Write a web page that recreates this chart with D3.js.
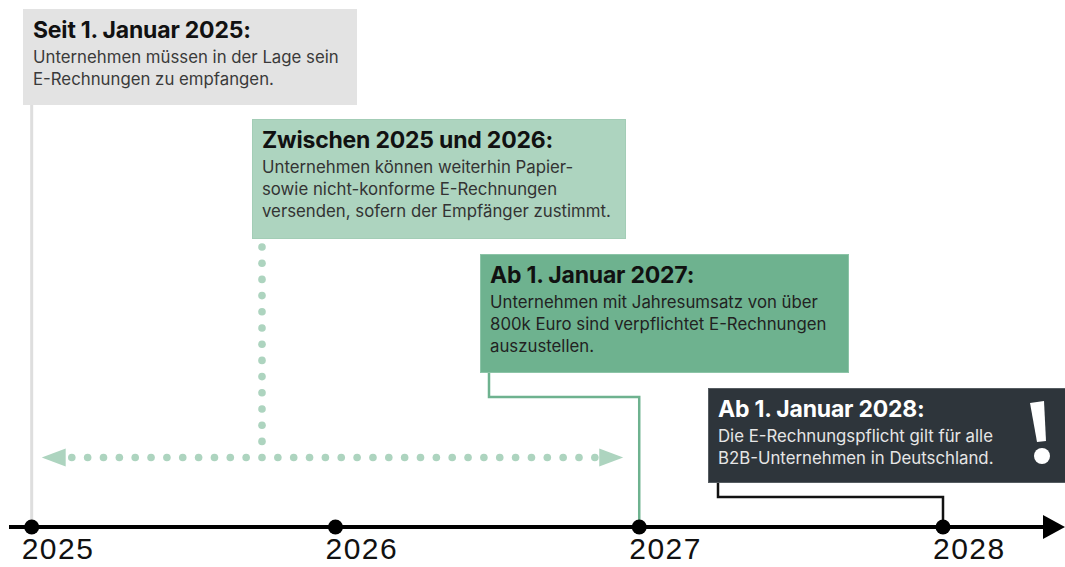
<!DOCTYPE html>
<html><head><meta charset="utf-8">
<script src="https://cdn.jsdelivr.net/npm/d3@7/dist/d3.min.js"></script>
<style>
html,body{margin:0;padding:0;background:#fff;}
svg{display:block;}
</style></head>
<body>
<script>
// ---- data ----
const years = [2025, 2026, 2027, 2028];
const yearLabels = ["2025", "2026", "2027", "2028"];
const titles = ["Seit 1. Januar 2025:", "Zwischen 2025 und 2026:", "Ab 1. Januar 2027:", "Ab 1. Januar 2028:"];
const bodies = [
  ["Unternehmen müssen in der Lage sein", "E-Rechnungen zu empfangen."],
  ["Unternehmen können weiterhin Papier-", "sowie nicht-konforme E-Rechnungen", "versenden, sofern der Empfänger zustimmt."],
  ["Unternehmen mit Jahresumsatz von über", "800k Euro sind verpflichtet E-Rechnungen", "auszustellen."],
  ["Die E-Rechnungspflicht gilt für alle", "B2B-Unternehmen in Deutschland."]
];
const eventYears = [2025, null, 2027, 2028];
const periodStart = 2025, periodEnd = 2027;

// ---- layout / style ----
const W = 1065, H = 567, axisY = 527;
const boxes = [
  {x: 23, y: 9, w: 333, h: 95, fill: "#e3e3e3", stroke: "#e3e3e3", title: "#111", text: "#3a3a3a"},
  {x: 252, y: 119, w: 373, h: 119, fill: "#add4bf", stroke: "#a3cdb6", title: "#111", text: "#333"},
  {x: 480, y: 254, w: 368, h: 118, fill: "#6eb28f", stroke: "#8cc4a7", title: "#111", text: "#222"},
  {x: 708, y: 388, w: 360, h: 94, fill: "#2e353b", stroke: "#555c61", title: "#fff", text: "#e6e6e6"}
];
const green = "#6eb28f", light = "#add4bf";

const x = d3.scaleLinear().domain([2025, 2028]).range([31.7, 943]);

const svg = d3.select("body").append("svg").attr("width", W).attr("height", H);

// box1: gray line
svg.append("line").attr("x1", x(eventYears[0])).attr("x2", x(eventYears[0]))
  .attr("y1", boxes[0].y + boxes[0].h).attr("y2", axisY)
  .attr("stroke", "#dedede").attr("stroke-width", 3);

// box2: dotted period
const vx = boxes[1].x + 10, py = 457.5, step = 15.85;
const vDots = d3.range(247, 445, 16.2);
svg.append("g").selectAll("circle").data(vDots).join("circle")
  .attr("cx", vx).attr("cy", d => d).attr("r", 3.8).attr("fill", light);
const hStart = x(periodStart) + 40, hEnd = x(periodEnd) - 44;
const hDots = [];
for (let k = -Math.floor((vx - hStart) / step); vx + k * step <= hEnd + 0.5; k++) hDots.push(vx + k * step);
svg.append("g").selectAll("circle").data(hDots).join("circle")
  .attr("cx", d => d).attr("cy", py).attr("r", 3.8).attr("fill", light);
const lt = x(periodStart) + 10, rt = x(periodEnd) - 16;
svg.append("path").attr("d", `M${lt},${py} L${lt + 24},${py - 9} L${lt + 24},${py + 9} Z`).attr("fill", light);
svg.append("path").attr("d", `M${rt},${py} L${rt - 24},${py - 9} L${rt - 24},${py + 9} Z`).attr("fill", light);

// box3 connector
const b3 = boxes[2];
svg.append("path")
  .attr("d", `M${b3.x + 9},${b3.y + b3.h} V397 H${x(eventYears[2])} V${axisY}`)
  .attr("fill", "none").attr("stroke", green).attr("stroke-width", 2.5);
// box4 connector
const b4 = boxes[3];
svg.append("path")
  .attr("d", `M${b4.x + 10},${b4.y + b4.h} V497 H${x(eventYears[3])} V${axisY}`)
  .attr("fill", "none").attr("stroke", "#111").attr("stroke-width", 2.5);

// boxes
boxes.forEach((b, i) => {
  const g = svg.append("g");
  g.append("rect").attr("x", b.x + 0.5).attr("y", b.y + 0.5).attr("width", b.w).attr("height", b.h)
    .attr("fill", b.fill).attr("stroke", b.stroke).attr("stroke-width", 1);
  const tx = b.x + 10;
  g.append("text").attr("x", tx).attr("y", b.y + 29)
    .attr("font-family", "Inter, 'Noto Sans', sans-serif").attr("font-weight", 700)
    .attr("font-size", 23).attr("letter-spacing", -0.2).attr("fill", b.title).text(titles[i]);
  bodies[i].forEach((line, j) => {
    g.append("text").attr("x", tx).attr("y", b.y + 54 + j * 21.8)
      .attr("font-family", "Inter, 'Noto Sans', sans-serif").attr("font-weight", 400)
      .attr("font-size", 16.8).attr("fill", b.text).text(line);
  });
});

// exclamation mark
const ex = svg.append("g").attr("fill", "#fff");
ex.append("path").attr("d", "M1030,403 L1044,401 L1046,441 L1037,442 Z");
ex.append("circle").attr("cx", 1042).attr("cy", 456).attr("r", 8);

// axis
svg.append("line").attr("x1", 9).attr("x2", 1045).attr("y1", axisY).attr("y2", axisY)
  .attr("stroke", "#000").attr("stroke-width", 4);
svg.append("path").attr("d", `M1065,${axisY} L1043,${axisY - 12} L1043,${axisY + 12} Z`).attr("fill", "#000");
svg.append("g").selectAll("circle").data(years).join("circle")
  .attr("cx", d => x(d)).attr("cy", axisY).attr("r", 7.5).attr("fill", "#000");
svg.append("g").selectAll("text").data(years).join("text")
  .attr("x", d => x(d) - 10).attr("y", 559)
  .attr("font-family", "'Liberation Sans', Arial, sans-serif").attr("font-size", 30)
  .attr("letter-spacing", 1.5)
  .attr("fill", "#111").text((d, i) => yearLabels[i]);
</script>
</body></html>
